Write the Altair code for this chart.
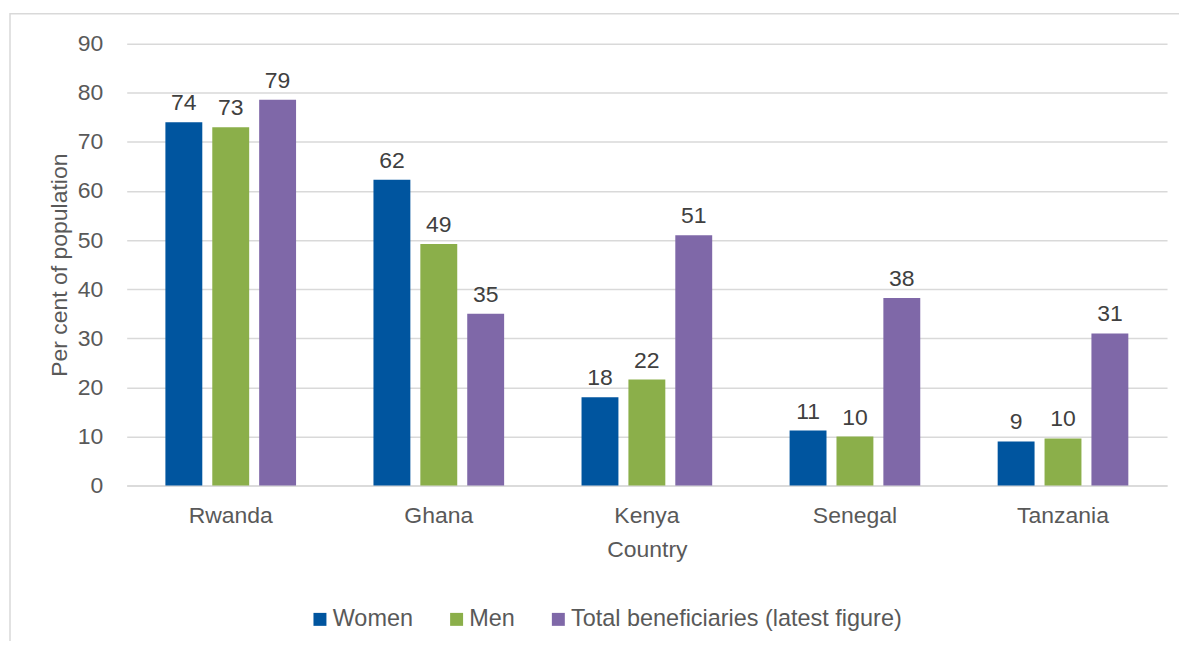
import altair as alt
import pandas as pd

countries = ["Rwanda", "Ghana", "Kenya", "Senegal", "Tanzania"]
series = ["Women", "Men", "Total beneficiaries (latest figure)"]
women = [74.0, 62.3, 18.0, 11.2, 9.0]
men = [73.0, 49.2, 21.6, 10.0, 9.6]
total = [78.6, 35.0, 51.0, 38.2, 31.0]
colors = ["#00559F", "#8BAF4A", "#7F68A8"]

rows = []
for i, c in enumerate(countries):
    for s, vals in zip(series, [women, men, total]):
        rows.append({"Country": c, "Series": s, "Value": vals[i]})
df = pd.DataFrame(rows)

FONT = "Liberation Sans"
GREY = "#595959"
FS = 23

x = alt.X("Country:N", sort=countries,
          scale=alt.Scale(paddingInner=0.372, paddingOuter=0.186),
          axis=alt.Axis(title="Country", labelAngle=0, ticks=False,
                        domainColor="#d9d9d9", domainWidth=1.5,
                        labelPadding=19, titlePadding=11))
xo = alt.XOffset("Series:N", sort=series,
                 scale=alt.Scale(paddingInner=0.213, paddingOuter=0))
y = alt.Y("Value:Q", scale=alt.Scale(domain=[0, 90]),
          axis=alt.Axis(title="Per cent of population", values=list(range(0, 91, 10)),
                        domain=False, ticks=False, gridColor="#d9d9d9", gridWidth=1.5,
                        labelPadding=24, titlePadding=6))

bars = alt.Chart(df).mark_bar().encode(
    x=x, xOffset=xo, y=y,
    color=alt.Color("Series:N", sort=series,
                    scale=alt.Scale(domain=series, range=colors),
                    legend=alt.Legend(title=None, orient="none", direction="horizontal",
                                      legendX=182, legendY=565, columns=3,
                                      symbolType="square", symbolSize=169,
                                      symbolStrokeWidth=0, labelOffset=1,
                                      columnPadding=31, labelFontSize=23.5,
                                      labelLimit=600,
                                      labelFont=FONT, labelColor=GREY)),
)

labels = alt.Chart(df).mark_text(baseline="bottom", dy=-7, fontSize=FS,
                                 font=FONT, color="#404040").encode(
    x=alt.X("Country:N", sort=countries), xOffset=alt.XOffset("Series:N", sort=series),
    y="Value:Q",
    text=alt.Text("Value:Q", format=".0f"),
)

frame = alt.Chart(pd.DataFrame({"a": [0]})).mark_rect(
    fill=None, stroke="#d9d9d9", strokeWidth=1.5).encode(
    x=alt.value(-117), x2=alt.value(1100), y=alt.value(-30), y2=alt.value(650))

chart = alt.layer(frame, bars, labels).properties(
    width=1043, height=443,
    autosize=alt.AutoSizeParams(type="none"),
    padding={"left": 119, "top": 35, "right": 12, "bottom": 155},
).configure_view(stroke=None).configure_axis(
    labelFont=FONT, titleFont=FONT, labelFontSize=FS, titleFontSize=FS,
    labelColor=GREY, titleColor=GREY, titleFontWeight="normal",
)

chart.save("out.html", embed_options={"renderer": "svg", "actions": False})
